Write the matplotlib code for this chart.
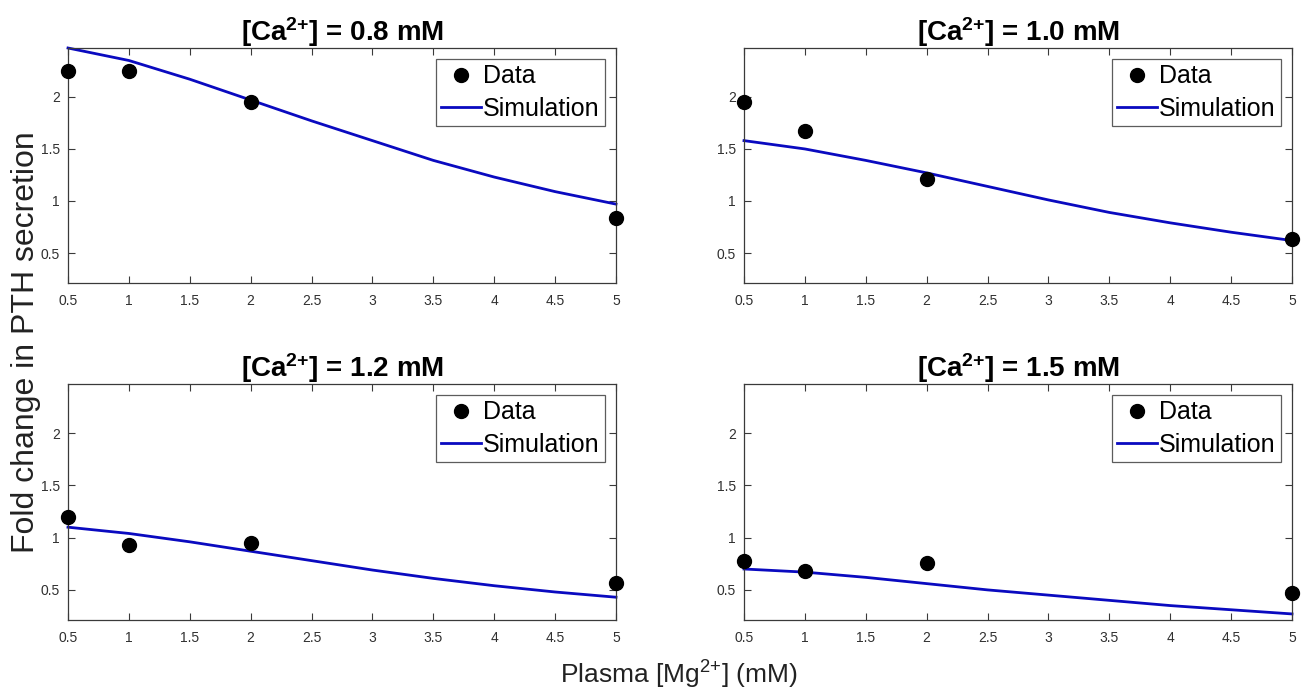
import numpy as np
import matplotlib
matplotlib.use('Agg')
import matplotlib.pyplot as plt

plt.rcParams['font.family'] = ['Liberation Sans', 'DejaVu Sans']
plt.rcParams['mathtext.fontset'] = 'custom'
plt.rcParams['mathtext.rm'] = 'Liberation Sans'
plt.rcParams['mathtext.bf'] = 'Liberation Sans:bold'
plt.rcParams['mathtext.it'] = 'Liberation Sans:italic'

# Plasma Mg2+ (mM) for data points and simulation curve
mg_data = [0.5, 1, 2, 5]
mg_sim = [0.5, 1, 1.5, 2, 2.5, 3, 3.5, 4, 4.5, 5]

ca_levels = ['0.8', '1.0', '1.2', '1.5']

data_08 = [2.25, 2.25, 1.95, 0.84]
data_10 = [1.95, 1.67, 1.21, 0.63]
data_12 = [1.20, 0.93, 0.95, 0.57]
data_15 = [0.78, 0.68, 0.76, 0.47]

sim_08 = [2.47, 2.35, 2.17, 1.97, 1.77, 1.58, 1.39, 1.23, 1.09, 0.97]
sim_10 = [1.58, 1.50, 1.39, 1.27, 1.14, 1.01, 0.89, 0.79, 0.70, 0.62]
sim_12 = [1.10, 1.04, 0.96, 0.87, 0.78, 0.69, 0.61, 0.54, 0.48, 0.43]
sim_15 = [0.70, 0.67, 0.62, 0.56, 0.50, 0.45, 0.40, 0.35, 0.31, 0.27]

all_data = [data_08, data_10, data_12, data_15]
all_sim = [sim_08, sim_10, sim_12, sim_15]

fig = plt.figure(figsize=(13.01, 6.92), dpi=100)

W, H = 1301, 692
# axes boxes in pixels: left, top, right, bottom
boxes = [(68, 48, 616, 283), (744, 48, 1292, 283),
         (68, 384, 616, 620), (744, 384, 1292, 620)]

axc = '#3a3a3a'
for i, (l, t, r, b) in enumerate(boxes):
    ax = fig.add_axes([l / W, 1 - b / H, (r - l) / W, (b - t) / H])
    ax.plot(mg_sim, all_sim[i], color='#0a0ac0', lw=2.0, label='Simulation', zorder=2,
            clip_on=False)
    ax.plot(mg_data, all_data[i], 'o', color='black', ms=10, label='Data', zorder=3,
            clip_on=False)
    ax.set_xlim(0.5, 5)
    ax.set_ylim(0.212, 2.47)
    ax.set_xticks(np.arange(0.5, 5.01, 0.5))
    ax.set_xticklabels(['0.5', '1', '1.5', '2', '2.5', '3', '3.5', '4', '4.5', '5'])
    ax.set_yticks([0.5, 1, 1.5, 2])
    ax.set_yticklabels(['0.5', '1', '1.5', '2'])
    ax.tick_params(direction='in', length=5, width=0.8, top=True, right=True,
                   labelsize=10, colors=axc, labelcolor='#303030')
    ax.tick_params(axis='x', pad=8)
    ax.tick_params(axis='y', pad=6)
    for s in ax.spines.values():
        s.set_color(axc)
        s.set_linewidth(0.9)
    ax.set_title('[Ca$^{\\mathbf{2{+}}}$] = ' + ca_levels[i] + ' mM', fontsize=20,
                 fontweight='bold', pad=5)
    handles, labels = ax.get_legend_handles_labels()
    leg = ax.legend(handles[::-1], labels[::-1], loc='upper right', fontsize=18,
                    frameon=True, fancybox=False, edgecolor='#333333',
                    borderaxespad=0.45, handlelength=1.6, handletextpad=0.1,
                    borderpad=0.2, labelspacing=0.35)
    leg.get_frame().set_linewidth(0.9)

fig.text(0.02, 0.506, 'Fold change in PTH secretion', rotation=90, fontsize=23,
         ha='center', va='center', color='#222222')
fig.text(0.522, 0.025, 'Plasma [Mg$^{2{+}}$] (mM)', fontsize=19, ha='center',
         va='center', color='#222222')

fig.savefig('out.png', dpi=100)
